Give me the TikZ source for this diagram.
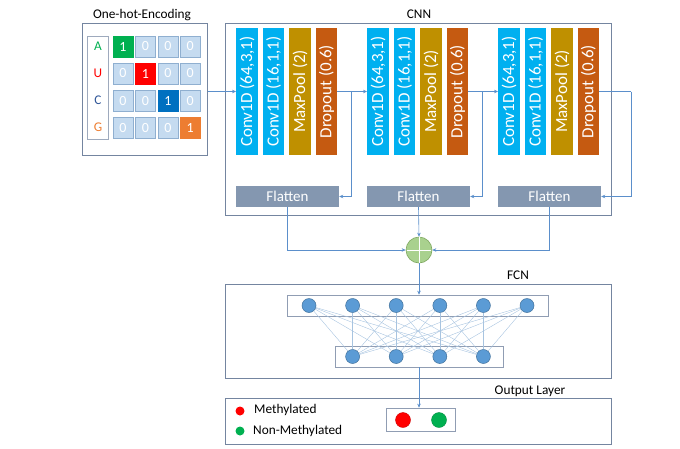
\documentclass[tikz,border=0pt]{standalone}
\usepackage{fontspec}
\setmainfont{Carlito}
\usetikzlibrary{arrows.meta}

\definecolor{convblue}{HTML}{00B0F0}
\definecolor{poolgold}{HTML}{BF9000}
\definecolor{dropred}{HTML}{C55A11}
\definecolor{flatgray}{HTML}{8497B0}
\definecolor{framegray}{HTML}{7485A0}
\definecolor{linkblue}{HTML}{5B8FCB}
\definecolor{cellblue}{HTML}{C5DBF0}
\definecolor{cellline}{HTML}{8FAFD0}
\definecolor{neuronfill}{HTML}{5B9BD5}
\definecolor{neuronline}{HTML}{41719C}
\definecolor{wireblue}{HTML}{A8C4E0}
\definecolor{sumgreen}{HTML}{A9D18E}
\definecolor{sumline}{HTML}{7FA860}
\definecolor{hotgreen}{HTML}{00B050}
\definecolor{hotred}{HTML}{FF0000}
\definecolor{hotblue}{HTML}{0070C0}
\definecolor{hotorange}{HTML}{ED7D31}
\definecolor{baseC}{HTML}{2F5597}

\begin{document}
\begin{tikzpicture}[x=1pt,y=-1pt,
	frame/.style={draw=framegray,line width=1pt},
	rowbox/.style={draw=framegray!80,line width=0.6pt},
	layer/.style={minimum width=21.5,minimum height=127,inner sep=0pt,text=white,font=\fontsize{17}{19}\selectfont},
	flat/.style={fill=flatgray,minimum width=103,minimum height=21,inner sep=0pt,text=white,font=\fontsize{15}{17}\selectfont},
	cell/.style={fill=cellblue,draw=cellline,line width=0.6pt,minimum width=20,minimum height=21,inner sep=0pt,text=white,font=\fontsize{14}{16}\selectfont},
	neuron/.style={circle,fill=neuronfill,draw=neuronline,line width=0.5pt,minimum size=14,inner sep=0pt},
	link/.style={draw=linkblue,line width=0.6pt,-{Stealth[length=4pt,width=3.5pt]}},
	wire/.style={draw=wireblue,line width=0.4pt},
	title/.style={font=\fontsize{13.3}{15}\selectfont}]
	
	\useasboundingbox (0,0) rectangle (680,448);
	
	% one-hot input
	\node[title] (ohtitle) at (142,15) {One-hot-Encoding};
	\node[frame,minimum width=125,minimum height=132,inner sep=0pt] (onehot) at (144.5,89) {};
	\node[draw=framegray!70,line width=0.6pt,minimum width=21,minimum height=103,inner sep=0pt] (bases) at (97.5,87.5) {};
	\foreach \r/\base/\col in {1/A/hotgreen,2/U/hotred,3/C/baseC,4/G/hotorange}
		\node[text=\col,title] (base\r) at (98,{46.5+27*(\r-1)}) {\base};
	\foreach \r/\col in {1/hotgreen,2/hotred,3/hotblue,4/hotorange}
		\foreach \c in {1,...,4}{
			\ifnum\r=\c
				\node[cell,fill=\col,draw=\col] (cell\r\c) at ({123+22.4*(\c-1)},{46.5+27*(\r-1)}) {1};
			\else
				\node[cell] (cell\r\c) at ({123+22.4*(\c-1)},{46.5+27*(\r-1)}) {0};
			\fi
		}
	
	% CNN
	\node[title] (cnntitle) at (419,14) {CNN};
	\node[frame,minimum width=386,minimum height=192,inner sep=0pt] (cnn) at (418,119) {};
	\foreach \b in {1,2,3}{
		\node[layer,fill=convblue] (convA\b) at ({247+131*(\b-1)},91.5) {\rotatebox{90}{Conv1D (64,3,1)}};
		\node[layer,fill=convblue] (convB\b) at ({273.5+131*(\b-1)},91.5) {\rotatebox{90}{Conv1D (16,1,1)}};
		\node[layer,fill=poolgold] (pool\b) at ({300+131*(\b-1)},91.5) {\rotatebox{90}{MaxPool (2)}};
		\node[layer,fill=dropred] (drop\b) at ({326.5+131*(\b-1)},91.5) {\rotatebox{90}{Dropout (0.6)}};
		\node[flat] (flat\b) at ({287.5+131*(\b-1)},196.5) {Flatten};
	}
	
	%arrows between blocks
	\draw[link] (onehot.east |- convA1.west) -- (convA1.west);
	\coordinate (split1) at (351,91.5);
	\coordinate (split2) at (482,91.5);
	\coordinate (split3) at (631,91.5);
	\draw[link] (drop1.east) -- (convA2.west);
	\draw[link] (drop2.east) -- (convA3.west);
	\draw[linkblue,line width=0.6pt] (drop3.east) -- (split3);
	\foreach \b in {1,2,3}
		\draw[link] (split\b) |- (flat\b.east);
	
	% concatenation
	\node[circle,fill=sumgreen,draw=sumline,line width=0.6pt,minimum size=26,inner sep=0pt] (sum) at (419,250) {};
	\draw[white,line width=1pt,shorten <=1pt,shorten >=1pt] (sum.north) -- (sum.south) (sum.west) -- (sum.east);
	\draw[link] (flat1.south) |- (sum.west);
	\draw[link] (flat2.south) -- (sum.north);
	\draw[link] (flat3.south) |- (sum.east);
	
	% FCN
	\node[title] (fcntitle) at (518,275) {FCN};
	\node[frame,minimum width=386,minimum height=94,inner sep=0pt] (fcn) at (418,331) {};
	\node[rowbox,minimum width=261,minimum height=21,inner sep=0pt] (toprow) at (417.5,305.5) {};
	\node[rowbox,minimum width=168,minimum height=21,inner sep=0pt] (botrow) at (419,356.5) {};
	\foreach \i in {1,...,6}
		\node[neuron] (up\i) at ({309+43.6*(\i-1)},305.5) {};
	\foreach \j in {1,...,4}
		\node[neuron] (low\j) at ({352.6+43.6*(\j-1)},356.5) {};
	\foreach \i in {1,...,6}
		\foreach \j in {1,...,4}
			\draw[wire] (up\i) -- (low\j);
	\draw[link] (sum.south) -- (sum.south |- toprow.north);
	
	% output layer
	\node[title] (outtitle) at (530,391) {Output Layer};
	\node[frame,minimum width=386,minimum height=46,inner sep=0pt] (output) at (418,421) {};
	\node[rowbox,minimum width=69,minimum height=23,inner sep=0pt] (outrow) at (420.5,419.5) {};
	\node[circle,fill=hotred,draw=hotred!80!black,line width=0.4pt,minimum size=15,inner sep=0pt] (outmeth) at (403,420) {};
	\node[circle,fill=hotgreen,draw=hotgreen!80!black,line width=0.4pt,minimum size=15,inner sep=0pt] (outnon) at (439,420) {};
	\draw[link] (botrow.south) -- (botrow.south |- outrow.north);
	\node[circle,fill=hotred,minimum size=9,inner sep=0pt] (methdot) at (240,411) {};
	\node[circle,fill=hotgreen,minimum size=9,inner sep=0pt] (nondot) at (240,431) {};
	\node[anchor=west,title,inner sep=0pt] (methtxt) at (254,410) {Methylated};
	\node[anchor=west,title,inner sep=0pt] (nontxt) at (253,431) {Non-Methylated};
	
\end{tikzpicture}
\end{document}
